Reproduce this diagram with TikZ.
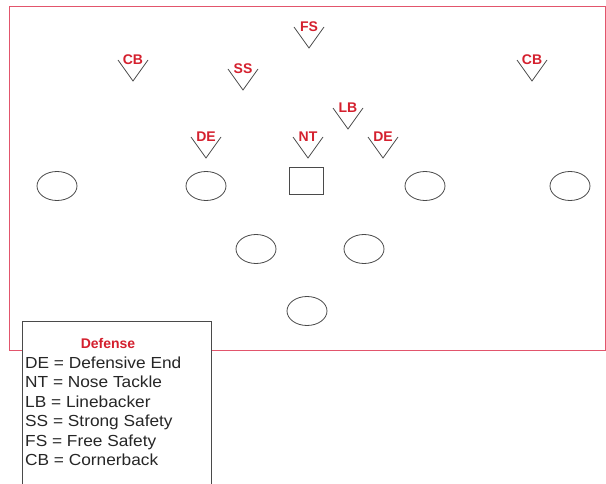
\documentclass[tikz,border=0pt]{standalone}
\usepackage{fontspec}
\setmainfont{Liberation Sans}
\newfontfamily\legendfont[FakeStretch=1.08]{Liberation Sans}
\usetikzlibrary{shapes.geometric, positioning}
\definecolor{fieldred}{HTML}{E2556C}
\definecolor{labelred}{HTML}{D4202E}
\definecolor{inkgray}{HTML}{4A4A4A}

\begin{document}
\begin{tikzpicture}[
    x=1pt, y=-1pt,
    every node/.style={inner sep=0pt},
    fieldline/.style={draw=fieldred, line width=1pt},
    defender/.style={text=labelred, font=\fontsize{14}{15}\selectfont\bfseries},
    vmark/.style={draw=inkgray, line width=0.8pt},
    oval/.style={draw=inkgray, ellipse, line width=0.8pt,
                 minimum width=40pt, minimum height=29pt},
    center/.style={draw=inkgray, rectangle, line width=0.8pt,
                   minimum width=34pt, minimum height=27pt},
    legendbox/.style={draw=inkgray, fill=white, line width=0.8pt, rectangle, anchor=north west,
                      minimum width=189pt, minimum height=180pt},
    legendtitle/.style={text=labelred, font=\fontsize{14}{16}\selectfont\bfseries},
    legendline/.style={anchor=base west, text=black!85, font=\legendfont\fontsize{16}{18}\selectfont}
]
    \useasboundingbox (0,0) rectangle (606,484);

    % Field outline
    \draw[fieldline] (9,7) -- (605.5,7) -- (605.5,350) -- (9,350) -- cycle;

    % Defense
    \node[defender] (cbl) at (133,60) {CB};
    \node[defender] (ss)  at (243,69) {SS};
    \node[defender] (fs)  at (309,27) {FS};
    \node[defender] (lb)  at (348,108) {LB};
    \node[defender] (del) at (206,137) {DE};
    \node[defender] (nt)  at (308,137) {NT};
    \node[defender] (der) at (383,137) {DE};
    \node[defender] (cbr) at (532,60) {CB};

    \draw[vmark] ([xshift=-15pt]cbl.center) -- ([yshift=-21pt]cbl.center) -- ([xshift=15pt]cbl.center);
    \draw[vmark] ([xshift=-15pt]ss.center) -- ([yshift=-21pt]ss.center) -- ([xshift=15pt]ss.center);
    \draw[vmark] ([xshift=-15pt]fs.center) -- ([yshift=-21pt]fs.center) -- ([xshift=15pt]fs.center);
    \draw[vmark] ([xshift=-15pt]lb.center) -- ([yshift=-21pt]lb.center) -- ([xshift=15pt]lb.center);
    \draw[vmark] ([xshift=-15pt]del.center) -- ([yshift=-21pt]del.center) -- ([xshift=15pt]del.center);
    \draw[vmark] ([xshift=-15pt]nt.center) -- ([yshift=-21pt]nt.center) -- ([xshift=15pt]nt.center);
    \draw[vmark] ([xshift=-15pt]der.center) -- ([yshift=-21pt]der.center) -- ([xshift=15pt]der.center);
    \draw[vmark] ([xshift=-15pt]cbr.center) -- ([yshift=-21pt]cbr.center) -- ([xshift=15pt]cbr.center);

    % Offense
    \node[oval]   (o1) at (57,186)  {};
    \node[oval]   (o2) at (206,186) {};
    \node[center] (c)  at (306,181) {};
    \node[oval]   (o3) at (425,186) {};
    \node[oval]   (o4) at (570,186) {};
    \node[oval]   (b1) at (256,249) {};
    \node[oval]   (b2) at (364,249) {};
    \node[oval]   (b3) at (307,311) {};

    % Legend
    \node[legendbox] (legend) at (22,321) {};
    \node[legendtitle] (ltitle) at (108,343) {Defense};
    \node[legendline] (l1) at (25,368) {DE = Defensive End};
    \node[legendline] (l2) at (25,387.5) {NT = Nose Tackle};
    \node[legendline] (l3) at (25,407) {LB = Linebacker};
    \node[legendline] (l4) at (25,426.5) {SS = Strong Safety};
    \node[legendline] (l5) at (25,446) {FS = Free Safety};
    \node[legendline] (l6) at (25,465.5) {CB = Cornerback};
\end{tikzpicture}
\end{document}
